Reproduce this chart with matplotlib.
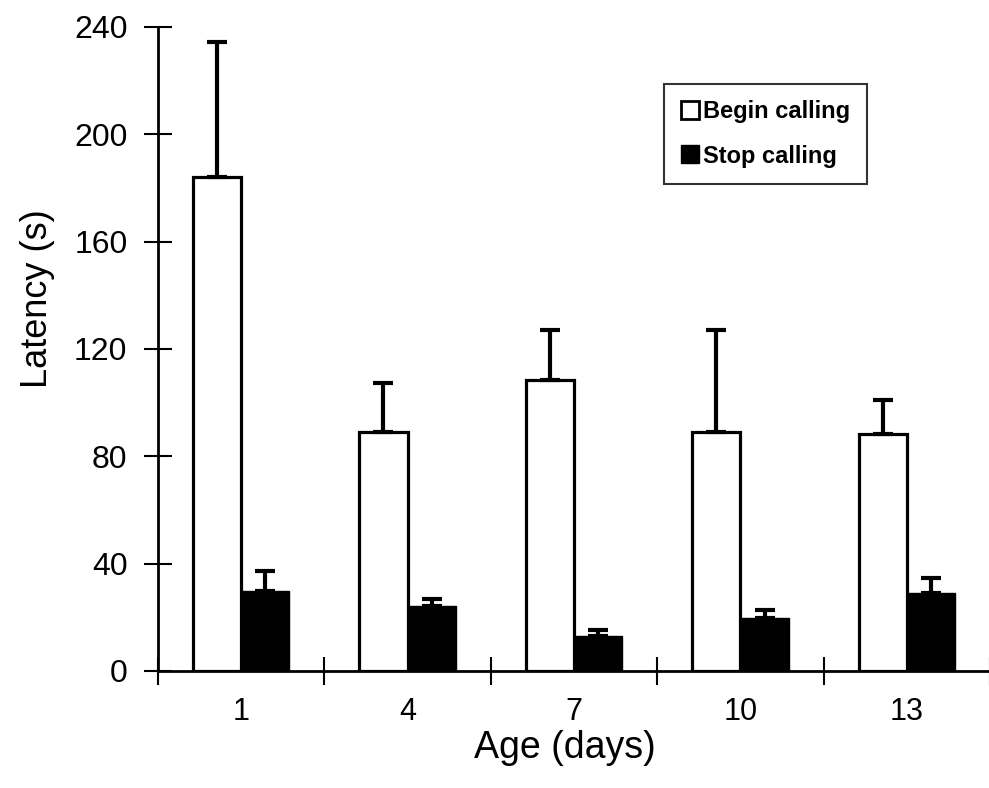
import numpy as np
import matplotlib.pyplot as plt
from matplotlib.patches import Patch

ages = ['1', '4', '7', '10', '13']
begin_mean = [184, 89, 108.5, 89, 88.3]
begin_err = [50.5, 18.5, 18.5, 38, 12.7]
stop_mean = [29.8, 24.2, 13, 19.8, 29]
stop_err = [7.5, 2.6, 2.3, 2.9, 5.7]

plt.rcParams['font.family'] = ['Liberation Sans', 'DejaVu Sans']

fig = plt.figure(figsize=(9.89, 7.88), dpi=100)
ax = fig.add_axes([158 / 989, 117 / 788, 832 / 989, 644 / 788])

x = np.arange(len(ages)) + 0.5
w = 0.29
err_kw = dict(elinewidth=3, capthick=3, capsize=7, ecolor='black')

ax.bar(x - w / 2, begin_mean, w, color='white', edgecolor='black', linewidth=2.3,
       yerr=[np.zeros(len(ages)), begin_err], error_kw=err_kw, label='Begin calling')
ax.bar(x + w / 2, stop_mean, w, color='black', edgecolor='black', linewidth=1,
       yerr=[np.zeros(len(ages)), stop_err], error_kw=err_kw, label='Stop calling')

ax.set_xlim(0, len(ages))
ax.set_ylim(0, 240)
ax.set_yticks(range(0, 241, 40))
ax.set_xticks(np.arange(len(ages) + 1))
ax.set_xticklabels([])
ax.set_xticks(x, minor=True)
ax.set_xticklabels(ages, minor=True)
ax.tick_params(axis='x', which='minor', length=0, labelsize=22, pad=19)
ax.tick_params(axis='x', which='major', direction='inout', length=20, width=1.5)
ax.tick_params(axis='y', direction='inout', length=20, width=1.5, labelsize=23, pad=12)

for s in ['top', 'right']:
    ax.spines[s].set_visible(False)
for s in ['left', 'bottom']:
    ax.spines[s].set_linewidth(2)

ax.set_ylabel('Latency (s)', fontsize=26)
ax.set_xlabel('Age (days)', fontsize=27)
ax.yaxis.set_label_coords(-0.124, 0.578)
ax.xaxis.set_label_coords(0.489, -0.092)

handles = [Patch(facecolor='white', edgecolor='black', linewidth=2),
           Patch(facecolor='black', edgecolor='black')]
leg = ax.legend(handles, ['Begin calling', 'Stop calling'], loc='upper left',
                bbox_to_anchor=(0.594, 0.93), frameon=True, fancybox=False,
                edgecolor='black', prop={'size': 17, 'weight': 'bold'},
                handlelength=0.8, handleheight=0.8, handletextpad=0.15,
                labelspacing=0.9, borderpad=0.7)
leg.get_frame().set_linewidth(1.5)

fig.savefig('out.png', dpi=100)
